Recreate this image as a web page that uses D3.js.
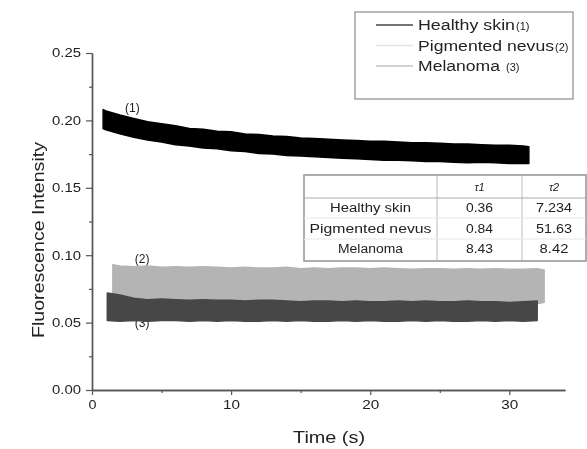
<!DOCTYPE html>
<html>
<head>
<meta charset="utf-8">
<script src="https://cdn.jsdelivr.net/npm/d3@7"></script>
<style>
  body { margin: 0; background: #fff; }
  text { font-family: "Liberation Sans", Arial, sans-serif; fill: #222; }
</style>
</head>
<body>
<script>
//series: upper and lower edge of each noisy trace
var healthyTime = [0.8, 1, 2, 3, 4, 5, 6, 7, 8, 9, 10, 11, 12, 13, 14, 15, 16, 17, 18, 19, 20, 21, 22, 23, 24, 25, 26, 27, 28, 29, 30, 31, 31.4];
var healthyHi = [0.208, 0.207, 0.204, 0.2015, 0.199, 0.1975, 0.196, 0.194, 0.1935, 0.192, 0.1915, 0.190, 0.1895, 0.1885, 0.188, 0.187, 0.1865, 0.186, 0.1855, 0.185, 0.1845, 0.1845, 0.184, 0.1835, 0.1835, 0.183, 0.1825, 0.1825, 0.182, 0.1815, 0.1815, 0.181, 0.1805];
var healthyLo = [0.194, 0.193, 0.190, 0.1875, 0.1855, 0.184, 0.182, 0.181, 0.1795, 0.179, 0.1775, 0.177, 0.1755, 0.175, 0.174, 0.1735, 0.173, 0.1725, 0.172, 0.1715, 0.171, 0.1705, 0.1705, 0.170, 0.1695, 0.1695, 0.169, 0.1685, 0.169, 0.1685, 0.168, 0.168, 0.168];

var nevusTime = [1.5, 2, 3, 4, 5, 6, 7, 8, 9, 10, 11, 12, 13, 14, 15, 16, 17, 18, 19, 20, 21, 22, 23, 24, 25, 26, 27, 28, 29, 30, 31, 32, 32.5];
var nevusHi = [0.093, 0.092, 0.0915, 0.092, 0.091, 0.0915, 0.091, 0.0915, 0.091, 0.0905, 0.091, 0.0905, 0.0905, 0.091, 0.090, 0.0905, 0.090, 0.0905, 0.0905, 0.090, 0.0905, 0.090, 0.0895, 0.090, 0.090, 0.0895, 0.090, 0.0895, 0.090, 0.0895, 0.0895, 0.090, 0.089];
var nevusLo = [0.066, 0.065, 0.066, 0.064, 0.065, 0.066, 0.065, 0.064, 0.065, 0.066, 0.064, 0.065, 0.065, 0.064, 0.066, 0.065, 0.064, 0.065, 0.065, 0.064, 0.066, 0.065, 0.064, 0.065, 0.065, 0.064, 0.065, 0.066, 0.064, 0.065, 0.065, 0.064, 0.065];

var melanomaTime = [1.1, 2, 3, 4, 5, 6, 7, 8, 9, 10, 11, 12, 13, 14, 15, 16, 17, 18, 19, 20, 21, 22, 23, 24, 25, 26, 27, 28, 29, 30, 31, 32];
var melanomaHi = [0.072, 0.0705, 0.068, 0.067, 0.0675, 0.067, 0.0665, 0.067, 0.0665, 0.0665, 0.066, 0.0665, 0.0665, 0.066, 0.0655, 0.066, 0.066, 0.0655, 0.066, 0.0655, 0.0655, 0.066, 0.0655, 0.066, 0.0655, 0.0655, 0.066, 0.0655, 0.0655, 0.065, 0.0655, 0.066];
var melanomaLo = [0.0515, 0.051, 0.0515, 0.051, 0.0515, 0.0515, 0.051, 0.0515, 0.051, 0.0515, 0.051, 0.051, 0.0515, 0.051, 0.0515, 0.051, 0.051, 0.0515, 0.051, 0.0515, 0.051, 0.051, 0.0515, 0.051, 0.0515, 0.051, 0.051, 0.0515, 0.051, 0.0515, 0.051, 0.0515];

//axis ticks
var xTicks = [0, 10, 20, 30];
var xMinor = [5, 15, 25];
var yTicks = [0, 0.05, 0.10, 0.15, 0.20, 0.25];
var yMinor = [0.025, 0.075, 0.125, 0.175, 0.225];

//legend and table text
var legendNames = ["Healthy skin", "Pigmented nevus", "Melanoma"];
var legendNums = ["(1)", "(2)", "(3)"];
var tableHeader = ["", "\u03c41", "\u03c42"];
var tableRows = ["Healthy skin", "Pigmented nevus", "Melanoma"];
var tau1 = ["0.36", "0.84", "8.43"];
var tau2 = ["7.234", "51.63", "8.42"];

window.onload = drawChart();

function drawChart() {
    var width = 587,
        height = 449;

    var svg = d3.select("body")
        .append("svg")
        .attr("width", width)
        .attr("height", height);

    //soft blur so it looks like the scanned figure
    svg.append("defs").append("filter")
        .attr("id", "soft")
        .append("feGaussianBlur")
        .attr("stdDeviation", 0.7);

    var g = svg.append("g").attr("filter", "url(#soft)");

    var x = d3.scaleLinear().domain([0, 34]).range([92, 565]);
    var y = d3.scaleLinear().domain([0, 0.25]).range([390, 53]);

    //one band per trace
    function band(times, hi, lo) {
        return times.map(function(t, i) { return { t: t, hi: hi[i], lo: lo[i] }; });
    }
    var area = d3.area()
        .x(function(d) { return x(d.t); })
        .y0(function(d) { return y(d.lo); })
        .y1(function(d) { return y(d.hi); });

    var traces = [
        { data: band(nevusTime, nevusHi, nevusLo), color: "#b4b4b4" },
        { data: band(melanomaTime, melanomaHi, melanomaLo), color: "#474747" },
        { data: band(healthyTime, healthyHi, healthyLo), color: "#050505" }
    ];

    //curve labels (drawn first so the bands sit over them)
    var tags = [
        { text: "(1)", t: 2.9, v: 0.206 },
        { text: "(2)", t: 3.6, v: 0.094 },
        { text: "(3)", t: 3.6, v: 0.0465 }
    ];
    g.selectAll(".tag")
        .data(tags)
        .enter()
        .append("text")
        .attr("x", function(d) { return x(d.t); })
        .attr("y", function(d) { return y(d.v); })
        .attr("text-anchor", "middle")
        .attr("font-size", 12)
        .text(function(d) { return d.text; });

    g.selectAll(".trace")
        .data(traces)
        .enter()
        .append("path")
        .attr("class", "trace")
        .attr("d", function(d) { return area(d.data); })
        .attr("fill", function(d) { return d.color; })
        .attr("stroke", function(d) { return d.color; })
        .attr("stroke-width", 1.5)
        .attr("stroke-linejoin", "round");

    //axes
    var xAxis = g.append("g")
        .attr("transform", "translate(0,390)")
        .call(d3.axisBottom(x).tickValues(xTicks).tickSize(5).tickSizeOuter(0).tickPadding(5));
    g.append("g")
        .attr("transform", "translate(0,390)")
        .call(d3.axisBottom(x).tickValues(xMinor).tickSize(3).tickSizeOuter(0).tickFormat(""));
    var yAxis = g.append("g")
        .attr("transform", "translate(92,0)")
        .call(d3.axisLeft(y).tickValues(yTicks).tickSize(6).tickSizeOuter(0).tickPadding(5).tickFormat(d3.format(".2f")));
    g.append("g")
        .attr("transform", "translate(92,0)")
        .call(d3.axisLeft(y).tickValues(yMinor).tickSize(3).tickSizeOuter(0).tickFormat(""));

    g.selectAll(".domain").attr("stroke", "#555").attr("stroke-width", 1.4);
    g.selectAll(".tick line").attr("stroke", "#555").attr("stroke-width", 1.2);
    xAxis.selectAll("text")
        .attr("font-size", 12)
        .attr("fill", "#222")
        .attr("textLength", function(d) { return d === 0 ? 8 : 17; })
        .attr("lengthAdjust", "spacingAndGlyphs");
    yAxis.selectAll("text")
        .attr("font-size", 12)
        .attr("fill", "#222")
        .attr("textLength", 29)
        .attr("lengthAdjust", "spacingAndGlyphs");

    //axis titles
    g.append("text")
        .attr("x", 329)
        .attr("y", 443)
        .attr("text-anchor", "middle")
        .attr("font-size", 16)
        .attr("textLength", 72)
        .attr("lengthAdjust", "spacingAndGlyphs")
        .text("Time (s)");
    g.append("text")
        .attr("transform", "translate(44,240) rotate(-90)")
        .attr("text-anchor", "middle")
        .attr("font-size", 17)
        .attr("textLength", 196)
        .attr("lengthAdjust", "spacingAndGlyphs")
        .text("Fluorescence Intensity");

    //legend
    var legend = g.append("g");
    legend.append("rect")
        .attr("x", 355).attr("y", 12)
        .attr("width", 218).attr("height", 87)
        .attr("fill", "#fff")
        .attr("stroke", "#8a8a8a")
        .attr("stroke-width", 1.2);
    var legendColors = ["#444", "#e2e2e2", "#c4c4c4"];
    var legendLens = [97, 136, 82];
    var numGap = [1, 1, 6];
    var rows = legend.selectAll(".row")
        .data(legendNames)
        .enter()
        .append("g")
        .attr("transform", function(d, i) { return "translate(0," + (25 + i * 20.5) + ")"; });
    rows.append("line")
        .attr("x1", 376).attr("x2", 413)
        .attr("stroke", function(d, i) { return legendColors[i]; })
        .attr("stroke-width", 1.6);
    rows.append("text")
        .attr("x", 418).attr("y", 5)
        .attr("font-size", 14)
        .attr("textLength", function(d, i) { return legendLens[i]; })
        .attr("lengthAdjust", "spacingAndGlyphs")
        .text(function(d) { return d; });
    rows.append("text")
        .attr("x", function(d, i) { return 418 + legendLens[i] + numGap[i]; })
        .attr("y", 5)
        .attr("font-size", 11)
        .text(function(d, i) { return legendNums[i]; });

    //table of time constants
    var table = g.append("g");
    var colX = [304, 437, 522, 586];
    var rowY = [175, 198, 218, 239, 261];
    table.append("rect")
        .attr("x", colX[0]).attr("y", rowY[0])
        .attr("width", colX[3] - colX[0]).attr("height", rowY[4] - rowY[0])
        .attr("fill", "#fff")
        .attr("stroke", "#999")
        .attr("stroke-width", 1.6);
    table.selectAll(".vline")
        .data([colX[1], colX[2]])
        .enter()
        .append("line")
        .attr("x1", function(d) { return d; }).attr("x2", function(d) { return d; })
        .attr("y1", rowY[0]).attr("y2", rowY[4])
        .attr("stroke", "#bbb");
    table.selectAll(".hline")
        .data(rowY.slice(1, 4))
        .enter()
        .append("line")
        .attr("x1", colX[0]).attr("x2", colX[3])
        .attr("y1", function(d) { return d; }).attr("y2", function(d) { return d; })
        .attr("stroke", function(d, i) { return i === 0 ? "#aaa" : "#e6e6e6"; });

    var cellMid = [(colX[0] + colX[1]) / 2, (colX[1] + colX[2]) / 2, (colX[2] + colX[3]) / 2];
    table.selectAll(".head")
        .data(tableHeader)
        .enter()
        .append("text")
        .attr("x", function(d, i) { return cellMid[i]; })
        .attr("y", 191)
        .attr("text-anchor", "middle")
        .attr("font-size", 11)
        .attr("font-style", "italic")
        .text(function(d) { return d; });
    var nameLens = [81, 122, 65];
    tableRows.forEach(function(name, i) {
        var yy = 212 + i * 20.5;
        table.append("text")
            .attr("x", cellMid[0]).attr("y", yy)
            .attr("text-anchor", "middle")
            .attr("font-size", 12)
            .attr("textLength", nameLens[i])
            .attr("lengthAdjust", "spacingAndGlyphs")
            .text(name);
        table.append("text")
            .attr("x", cellMid[1]).attr("y", yy)
            .attr("text-anchor", "middle")
            .attr("font-size", 12)
            .attr("textLength", 27)
            .attr("lengthAdjust", "spacingAndGlyphs")
            .text(tau1[i]);
        table.append("text")
            .attr("x", cellMid[2]).attr("y", yy)
            .attr("text-anchor", "middle")
            .attr("font-size", 12)
            .attr("textLength", tau2[i].length * 7.2)
            .attr("lengthAdjust", "spacingAndGlyphs")
            .text(tau2[i]);
    });
}
</script>
</body>
</html>
